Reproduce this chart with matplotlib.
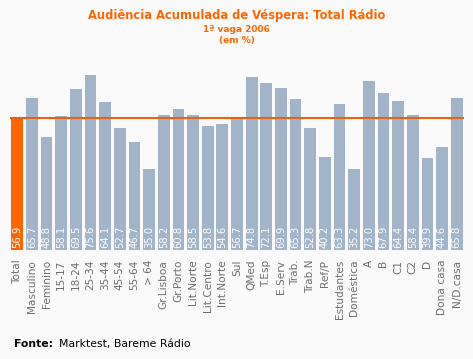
import matplotlib
matplotlib.use("Agg")
import matplotlib.pyplot as plt

categories = ["Total", "Masculino", "Feminino", "15-17", "18-24", "25-34", "35-44",
              "45-54", "55-64", "> 64", "Gr.Lisboa", "Gr.Porto", "Lit.Norte",
              "Lit.Centro", "Int.Norte", "Sul", "QMed", "T.Esp", "E.Serv", "Trab.",
              "Trab.N", "Ref/P", "Estudantes", "Doméstica", "A", "B", "C1", "C2",
              "D", "Dona casa", "N/D.casa"]
values = [56.9, 65.7, 48.8, 58.1, 69.5, 75.6, 64.1, 52.7, 46.7, 35.0, 58.2, 60.8,
          58.5, 53.8, 54.6, 56.7, 74.8, 72.1, 69.9, 65.3, 52.8, 40.2, 63.3, 35.2,
          73.0, 67.9, 64.4, 58.4, 39.9, 44.6, 65.8]
reference = 56.9

W, H = 473, 359
fig = plt.figure(figsize=(W / 100, H / 100), dpi=100)
fig.patch.set_facecolor("#FAFAFA")

left, right, base, top = 10, 464, 250, 65
ax = fig.add_axes([left / W, (H - base) / H, (right - left) / W, (base - top) / H])
ax.set_facecolor("#FAFAFA")

colors = ["#FF6600"] + ["#A1B4CA"] * (len(values) - 1)
x = list(range(len(values)))
ax.bar(x, values, width=0.8, color=colors, zorder=2)
ax.axhline(reference, color="#E8620F", lw=1.5, zorder=3)
ax.set_xlim(-0.5, len(values) - 0.5)
ax.set_ylim(0, 80)
for s in ax.spines.values():
    s.set_visible(False)
ax.set_yticks([])
ax.set_xticks(x)
ax.set_xticklabels(categories, rotation=90, fontsize=7.6, color="#6E6E6E")
ax.tick_params(axis="x", length=0, pad=7)

for xi, v in zip(x, values):
    ax.text(xi, 0.8, f"{v:.1f}", rotation=90, ha="center", va="bottom",
            fontsize=7.2, color="white", zorder=4)

orange = "#FF6600"
fig.text(0.5, 1 - 16 / H, "Audiência Acumulada de Véspera: Total Rádio", ha="center",
         va="center", fontsize=8.3, fontweight="bold", color=orange)
fig.text(0.5, 1 - 29 / H, "1ª vaga 2006", ha="center", va="center", fontsize=6.5,
         fontweight="bold", color=orange)
fig.text(0.5, 1 - 41 / H, "(em %)", ha="center", va="center", fontsize=6.5,
         fontweight="bold", color=orange)

fig.text(14 / W, 1 - 344 / H, "Fonte:", ha="left", va="center", fontsize=7.8,
         fontweight="bold", color="black")
fig.text(59 / W, 1 - 344 / H, "Marktest, Bareme Rádio", ha="left", va="center",
         fontsize=7.8, color="black")

fig.savefig("out.png", dpi=100, facecolor=fig.get_facecolor())
